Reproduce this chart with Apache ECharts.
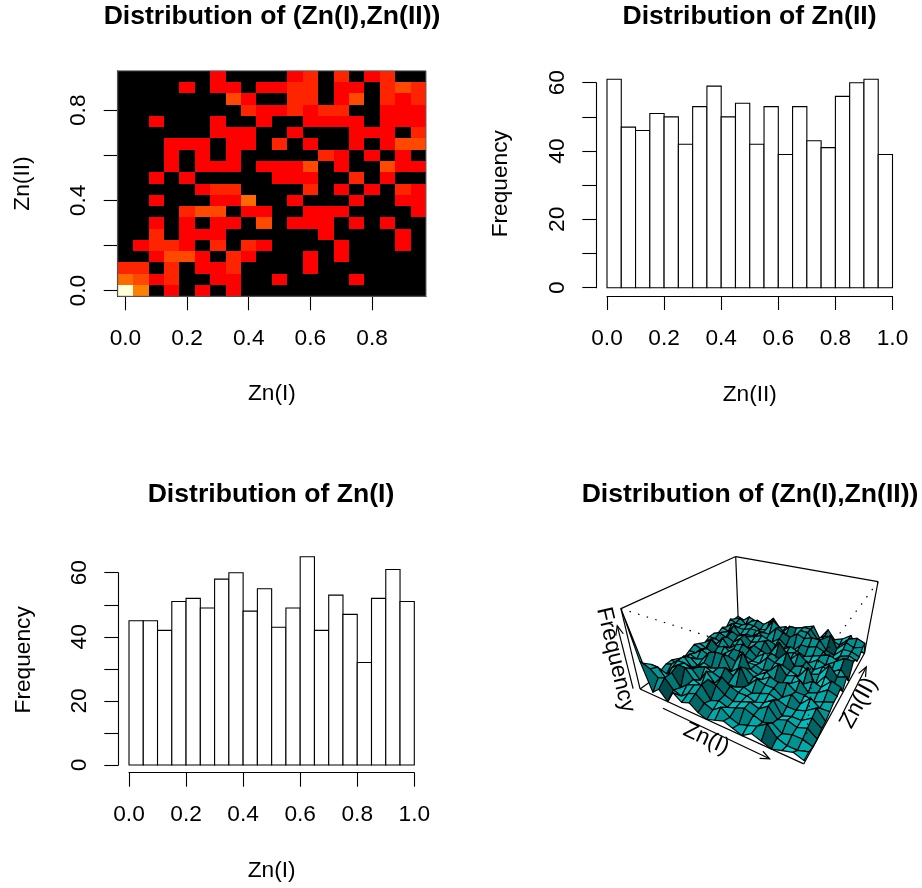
<!DOCTYPE html>
<html>
<head>
<meta charset="utf-8">
<title>Distribution of Zn</title>
<script src="https://cdn.jsdelivr.net/npm/echarts@6/dist/echarts.min.js"></script>
<style>
html, body { margin: 0; padding: 0; background: #fff; }
#chart { width: 922px; height: 888px; }
</style>
</head>
<body>
<div id="chart"></div>
<script>
var FONT = '"Liberation Sans", Helvetica, Arial, sans-serif';
var LABEL_SIZE = 22.7;

// counts per bin, width 0.05
var zn2Counts = [61, 47, 46, 51, 50, 42, 53, 59, 50, 54, 42, 53, 39, 53, 43, 41, 56, 60, 61, 39];
var zn1Counts = [45, 45, 42, 51, 52, 49, 58, 60, 48, 55, 43, 49, 65, 42, 53, 47, 32, 52, 61, 51];
var binWidth = 0.05;

// joint counts, first row is the top of the image (Zn(II) = 0.95)
var jointCounts = [
  [1, 0, 2, 1, 0, 1, 4, 1, 2, 0, 1, 4, 5, 1, 5, 2, 3, 5, 1, 0],
  [1, 2, 0, 2, 3, 2, 4, 3, 1, 4, 4, 5, 5, 2, 4, 3, 2, 5, 6, 5],
  [2, 1, 1, 2, 2, 1, 2, 6, 4, 2, 1, 5, 5, 2, 4, 6, 2, 5, 4, 5],
  [0, 2, 1, 1, 2, 2, 2, 2, 5, 4, 3, 5, 4, 5, 5, 2, 1, 4, 4, 3],
  [1, 0, 3, 0, 1, 1, 3, 1, 1, 3, 1, 0, 3, 3, 4, 3, 0, 3, 4, 3],
  [0, 1, 2, 1, 2, 2, 3, 4, 3, 2, 1, 3, 2, 1, 2, 3, 4, 3, 1, 5],
  [1, 2, 1, 4, 3, 4, 2, 3, 4, 1, 5, 2, 3, 2, 1, 3, 2, 4, 6, 6],
  [1, 1, 0, 3, 2, 4, 1, 3, 2, 1, 1, 0, 2, 5, 3, 1, 3, 2, 4, 1],
  [0, 2, 1, 4, 1, 3, 4, 3, 1, 3, 4, 3, 6, 2, 3, 1, 2, 6, 3, 4],
  [1, 0, 4, 2, 3, 1, 2, 2, 1, 1, 4, 3, 3, 2, 1, 5, 0, 4, 2, 1],
  [2, 1, 2, 1, 1, 3, 5, 5, 2, 2, 1, 2, 5, 2, 3, 1, 3, 2, 5, 4],
  [1, 1, 3, 2, 2, 2, 4, 3, 7, 2, 1, 3, 1, 1, 2, 4, 1, 2, 4, 3],
  [0, 2, 1, 2, 5, 6, 6, 1, 3, 4, 2, 2, 4, 3, 4, 2, 2, 1, 2, 3],
  [1, 1, 3, 1, 3, 2, 3, 4, 2, 6, 1, 4, 3, 3, 1, 3, 1, 4, 2, 2],
  [2, 0, 5, 2, 3, 4, 3, 2, 1, 1, 2, 1, 2, 3, 2, 1, 1, 2, 4, 1],
  [2, 3, 5, 5, 4, 1, 5, 2, 5, 3, 2, 2, 1, 2, 4, 0, 1, 1, 3, 1],
  [1, 1, 4, 6, 6, 3, 2, 5, 4, 2, 1, 2, 3, 2, 4, 1, 2, 1, 2, 0],
  [5, 5, 2, 5, 1, 3, 4, 5, 1, 2, 1, 2, 3, 2, 1, 2, 0, 1, 1, 0],
  [7, 6, 4, 5, 2, 1, 3, 4, 2, 1, 3, 1, 0, 1, 2, 4, 1, 0, 0, 1],
  [24, 10, 1, 3, 0, 4, 2, 3, 1, 0, 1, 2, 1, 0, 2, 1, 0, 1, 2, 1]
];

var heatTicks = [0, 0.2, 0.4, 0.6, 0.8];
var heatYLabels = [0, 0.4, 0.8];
var histXTicks = [0, 0.2, 0.4, 0.6, 0.8, 1];
var freqTicks = [0, 10, 20, 30, 40, 50, 60];
var freqLabels = [0, 20, 40, 60];

function heatColor(n) {
  if (n <= 2) return '#000000';
  if (n <= 4) return '#ff0000';
  if (n == 5) return '#ff2400';
  if (n == 6) return '#ff4800';
  if (n == 7) return '#ff6a00';
  if (n <= 11) return '#ff8000';
  return '#ffffd8';
}

// persp(theta = 30, phi = 30, expand = 0.5), same transform as R
var theta = 30 * Math.PI / 180, phi = 30 * Math.PI / 180;
var viewDist = 2 + Math.sqrt(3);
var perspScale = 325, perspX = 761.2, perspY = 634.3;
var maxCount = 24;

function project(x, y, z) {
  var X = x * Math.cos(theta) + y * Math.sin(theta);
  var D = -x * Math.sin(theta) + y * Math.cos(theta);
  var up = z * Math.cos(phi) + D * Math.sin(phi);
  var depth = z * Math.sin(phi) - D * Math.cos(phi);
  var w = viewDist - depth;
  return [perspX + perspScale * X / w, perspY - perspScale * up / w, w];
}
function boxX(col) { return -1 + 2 * col / 19; }
function boxZ(n) { return n / maxCount - 0.5; }
// col runs along Zn(I), row along Zn(II), row 0 = Zn(II) 0
function surf(col, row) {
  var n = jointCounts[19 - row][col];
  return [boxX(col), boxX(row), boxZ(n)];
}
function facetColor(col, row) {
  var a = surf(col, row), b = surf(col + 1, row), c = surf(col + 1, row + 1), d = surf(col, row + 1);
  var u = [c[0] - a[0], c[1] - a[1], c[2] - a[2]];
  var v = [d[0] - b[0], d[1] - b[1], d[2] - b[2]];
  var nx = u[1] * v[2] - u[2] * v[1], ny = u[2] * v[0] - u[0] * v[2], nz = u[0] * v[1] - u[1] * v[0];
  var len = Math.sqrt(nx * nx + ny * ny + nz * nz);
  // default R light, ltheta = -135, lphi = 0
  var s = (nx * -0.7071 + ny * 0.7071) / len;
  var g = Math.round(240 * Math.pow(0.5 * (s + 1), 0.5));
  return 'rgb(0,' + g + ',' + g + ')';
}

var heatData = [];
jointCounts.forEach(function (r, i) {
  r.forEach(function (n, j) {
    heatData.push([j * binWidth, (19 - i) * binWidth, n]);
  });
});
function histData(counts) {
  return counts.map(function (n, k) {
    return [k * binWidth, (k + 1) * binWidth, n];
  });
}
// back to front for the painter's algorithm
var facets = [];
for (var fc = 0; fc < 19; fc++) {
  for (var fr = 0; fr < 19; fr++) {
    var pc = project(boxX(fc) + 1 / 19, boxX(fr) + 1 / 19, -0.5);
    facets.push([fc, fr, pc[2]]);
  }
}
facets.sort(function (a, b) { return b[2] - a[2]; });

function renderHeat(params, api) {
  var lo = api.coord([api.value(0) - binWidth / 2, api.value(1) + binWidth / 2]);
  var hi = api.coord([api.value(0) + binWidth / 2, api.value(1) - binWidth / 2]);
  var x0 = Math.round(lo[0]), y0 = Math.round(lo[1]);
  return {
    type: 'rect',
    shape: { x: x0, y: y0, width: Math.round(hi[0]) - x0, height: Math.round(hi[1]) - y0 },
    style: { fill: heatColor(api.value(2)), lineWidth: 0 }
  };
}
function renderHeatFrame(params, api) {
  var lo = api.coord([-0.025, 0.975]);
  var hi = api.coord([0.975, -0.025]);
  return {
    type: 'rect',
    shape: { x: lo[0], y: lo[1], width: hi[0] - lo[0], height: hi[1] - lo[1] },
    style: { fill: null, stroke: '#666666', lineWidth: 1 }
  };
}
function renderBar(params, api) {
  var lo = api.coord([api.value(0), 0]);
  var hi = api.coord([api.value(1), api.value(2)]);
  return {
    type: 'rect',
    shape: { x: lo[0], y: hi[1], width: hi[0] - lo[0], height: lo[1] - hi[1] },
    style: { fill: '#ffffff', stroke: '#000000', lineWidth: 1.1 }
  };
}
function renderFacet(params, api) {
  var col = api.value(0), row = api.value(1);
  var pts = [surf(col, row), surf(col + 1, row), surf(col + 1, row + 1), surf(col, row + 1)].map(function (p) {
    return project(p[0], p[1], p[2]).slice(0, 2);
  });
  return {
    type: 'polygon',
    z2: params.dataIndex,
    shape: { points: pts },
    style: { fill: facetColor(col, row), stroke: '#000000', lineWidth: 1.2, lineJoin: 'round' }
  };
}
function edge(a, b, dash) {
  var p = project(a[0], a[1], a[2]), q = project(b[0], b[1], b[2]);
  return {
    type: 'line',
    shape: { x1: p[0], y1: p[1], x2: q[0], y2: q[1] },
    style: { stroke: '#000000', lineWidth: 1.2, lineDash: dash || null }
  };
}
function renderBackBox() {
  return {
    type: 'group',
    children: [
      edge([-1, -1, -0.5], [-1, -1, 0.5]),
      edge([-1, -1, 0.5], [-1, 1, 0.5]),
      edge([-1, 1, 0.5], [1, 1, 0.5]),
      edge([-1, 1, 0.5], [-1, 1, -0.5]),
      edge([1, 1, 0.5], [1, 1, -0.5]),
      edge([-1, -1, -0.5], [-1, 1, -0.5]),
      edge([-1, 1, -0.5], [1, 1, -0.5])
    ]
  };
}
function arrow(a, b) {
  var p = project(a[0], a[1], a[2]), q = project(b[0], b[1], b[2]);
  var ang = Math.atan2(q[1] - p[1], q[0] - p[0]), head = 10, open = 0.4;
  return [
    { type: 'line', shape: { x1: p[0], y1: p[1], x2: q[0], y2: q[1] }, style: { stroke: '#000', lineWidth: 1.2 } },
    {
      type: 'polyline',
      shape: {
        points: [
          [q[0] - head * Math.cos(ang - open), q[1] - head * Math.sin(ang - open)],
          [q[0], q[1]],
          [q[0] - head * Math.cos(ang + open), q[1] - head * Math.sin(ang + open)]
        ]
      },
      style: { stroke: '#000', fill: null, lineWidth: 1.2 }
    }
  ];
}
function boxText(str, at, a, b) {
  var p = project(at[0], at[1], at[2]);
  var s = project(a[0], a[1], a[2]), e = project(b[0], b[1], b[2]);
  return {
    type: 'text',
    x: p[0],
    y: p[1],
    rotation: -Math.atan2(e[1] - s[1], e[0] - s[0]),
    style: { text: str, fill: '#000', font: LABEL_SIZE + 'px ' + FONT, align: 'center', verticalAlign: 'middle' }
  };
}
function renderFrontBox() {
  var kids = [
    edge([-1, -1, -0.5], [1, -1, -0.5]),
    edge([1, -1, -0.5], [1, 1, -0.5]),
    edge([-1, -1, 0.5], [1, -1, 0.5], [1.5, 7.5]),
    edge([1, -1, 0.5], [1, 1, 0.5], [1.5, 7.5]),
    edge([1, -1, 0.5], [1, -1, -0.5], [1.5, 7.5])
  ];
  kids = kids.concat(arrow([-0.55, -1.1, -0.5], [0.72, -1.1, -0.5]));
  kids = kids.concat(arrow([1.1, -0.25, -0.5], [1.1, 0.7, -0.5]));
  kids = kids.concat(arrow([-1.05, -1.05, -0.48], [-1.05, -1.05, 0.32]));
  kids.push(boxText('Zn(I)', [0.1, -1.2, -0.5], [-1, -1, -0.5], [1, -1, -0.5]));
  kids.push(boxText('Zn(II)', [1.2, 0, -0.5], [1, -1, -0.5], [1, 1, -0.5]));
  kids.push(boxText('Frequency', [-1.12, -1.12, -0.07], [-1, -1, 0.5], [-1, -1, -0.5]));
  return { type: 'group', children: kids };
}

function titleOf(str, cx, cy) {
  return {
    text: str, left: cx, top: cy, textAlign: 'center', textVerticalAlign: 'middle',
    textStyle: { fontFamily: FONT, fontSize: 26.6, fontWeight: 'bold', color: '#000' }
  };
}
function xAxisOf(gridIndex, min, max, ticks, name, offset, gap) {
  return {
    type: 'value', gridIndex: gridIndex, min: min, max: max, offset: offset,
    name: name, nameLocation: 'middle', nameGap: gap,
    nameTextStyle: { fontFamily: FONT, fontSize: LABEL_SIZE, color: '#000' },
    splitLine: { show: false },
    axisLine: { show: true, onZero: false, lineStyle: { color: '#000', width: 1.1 } },
    axisTick: { show: true, length: 14, customValues: ticks, lineStyle: { color: '#000', width: 1.1 } },
    axisLabel: {
      customValues: ticks, margin: 31, fontFamily: FONT, fontSize: LABEL_SIZE, color: '#000',
      formatter: function (v) { return v.toFixed(1); }
    }
  };
}
function yAxisOf(gridIndex, min, max, ticks, labels, name, offset, gap, fmt, namePad) {
  return {
    type: 'value', gridIndex: gridIndex, min: min, max: max, offset: offset,
    name: name, nameLocation: 'middle', nameGap: gap,
    nameTextStyle: { fontFamily: FONT, fontSize: LABEL_SIZE, color: '#000', padding: [0, 0, 0, namePad] },
    splitLine: { show: false },
    axisLine: { show: true, onZero: false, lineStyle: { color: '#000', width: 1.1 } },
    axisTick: { show: true, length: 14, customValues: ticks, lineStyle: { color: '#000', width: 1.1 } },
    axisLabel: {
      customValues: labels, rotate: 90, margin: 27, fontFamily: FONT, fontSize: LABEL_SIZE, color: '#000',
      formatter: fmt
    }
  };
}

var option = {
  animation: false,
  backgroundColor: '#ffffff',
  title: [
    titleOf('Distribution of (Zn(I),Zn(II))', 267, 11.5),
    titleOf('Distribution of Zn(II)', 744.5, 11.5),
    titleOf('Distribution of Zn(I)', 266, 489.5),
    titleOf('Distribution of (Zn(I),Zn(II))', 745, 489.5)
  ],
  grid: [
    { left: 117.7, top: 70.8, width: 308.3, height: 225.5 },
    { left: 607, top: 82.7, width: 285.5, height: 205 },
    { left: 129, top: 572.7, width: 285.3, height: 192.3 }
  ],
  xAxis: [
    xAxisOf(0, -0.025, 0.975, heatTicks, 'Zn(I)', 0, 86),
    xAxisOf(1, 0, 1, histXTicks, 'Zn(II)', 8.3, 87),
    xAxisOf(2, 0, 1, histXTicks, 'Zn(I)', 7.7, 87)
  ],
  yAxis: [
    yAxisOf(0, -0.025, 0.975, heatTicks, heatYLabels, 'Zn(II)', 0, 83, function (v) { return v.toFixed(1); }, 0),
    yAxisOf(1, 0, 60, freqTicks, freqLabels, 'Frequency', 10.7, 84, null, 3),
    yAxisOf(2, 0, 60, freqTicks, freqLabels, 'Frequency', 10.7, 83, null, 18)
  ],
  series: [
    { type: 'custom', xAxisIndex: 0, yAxisIndex: 0, data: heatData, renderItem: renderHeat, clip: true },
    { type: 'custom', xAxisIndex: 0, yAxisIndex: 0, data: [0], renderItem: renderHeatFrame, z: 3 },
    { type: 'custom', xAxisIndex: 1, yAxisIndex: 1, data: histData(zn2Counts), renderItem: renderBar },
    { type: 'custom', xAxisIndex: 2, yAxisIndex: 2, data: histData(zn1Counts), renderItem: renderBar },
    { type: 'custom', coordinateSystem: 'none', data: [0], renderItem: renderBackBox, z: 3 },
    { type: 'custom', coordinateSystem: 'none', data: facets, renderItem: renderFacet, z: 4 },
    { type: 'custom', coordinateSystem: 'none', data: [0], renderItem: renderFrontBox, z: 5 }
  ]
};

var myChart = echarts.init(document.getElementById('chart'));
myChart.setOption(option);
</script>
</body>
</html>
